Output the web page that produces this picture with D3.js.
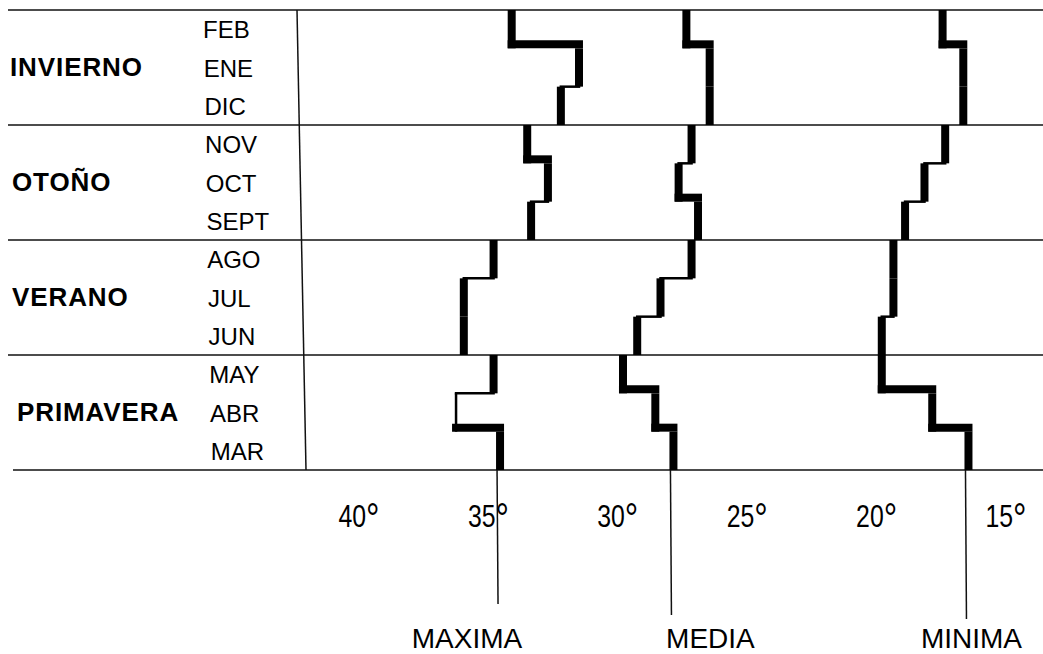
<!DOCTYPE html>
<html>
<head>
<meta charset="utf-8">
<script src="https://cdn.jsdelivr.net/npm/d3@7"></script>
<style>
  html, body { margin: 0; padding: 0; background: #fff; }
  svg { display: block; }
  text { font-family: "Liberation Sans", Arial, sans-serif; fill: #000; }
</style>
</head>
<body>
<svg id="chart" width="1043" height="654"></svg>
<script>
// ---- data ----
const seasons = ["INVIERNO", "OTOÑO", "VERANO", "PRIMAVERA"];
const months = ["FEB", "ENE", "DIC", "NOV", "OCT", "SEPT", "AGO", "JUL", "JUN", "MAY", "ABR", "MAR"];
const maxima = [34.1, 31.5, 32.2, 33.5, 32.7, 33.35, 34.8, 35.95, 35.95, 34.8, 36.25, 34.55];
const media  = [27.35, 26.45, 26.45, 27.15, 27.65, 26.9, 27.15, 28.35, 29.25, 29.8, 28.55, 27.85];
const minima = [17.45, 16.65, 16.65, 17.35, 18.15, 18.9, 19.35, 19.35, 19.8, 19.8, 17.85, 16.45];
const seriesNames = ["MAXIMA", "MEDIA", "MINIMA"];
const tickValues = [40, 35, 30, 25, 20, 15];
const tickLabels = ["40", "35", "30", "25", "20", "15"];
const degreeSign = "°";

// ---- layout / style ----
const W = 1043, H = 654;
const plotTop = 10, plotBottom = 470;
const plotLeft = 301;
const series = [
  { name: seriesNames[0], values: maxima, dropEnd: 604, labelDx: -33 },
  { name: seriesNames[1], values: media,  dropEnd: 615, labelDx: 37 },
  { name: seriesNames[2], values: minima, dropEnd: 619, labelDx: 3 }
];
const thinVertical = { MAXIMA: ["ABR"] };   // pen-drawn thin strokes
const thick = 8, thin = 2.5;

const svg = d3.select("#chart");

const x = d3.scaleLinear().domain([40, 15]).range([359, 1006]);
const yMonth = d3.scaleBand().domain(months).range([plotTop, plotBottom]);
const ySeason = d3.scaleBand().domain(seasons).range([plotTop, plotBottom]);

// horizontal season lines
const bounds = seasons.map(s => ySeason(s)).concat([plotBottom]);
svg.append("g").selectAll("line").data(bounds).join("line")
  .attr("x1", (d, i) => i === bounds.length - 1 ? 13 : 8)
  .attr("x2", W)
  .attr("y1", d => d).attr("y2", d => d)
  .attr("stroke", "#111").attr("stroke-width", 1.6);

// vertical separator
svg.append("line")
  .attr("x1", plotLeft - 4).attr("x2", plotLeft + 5)
  .attr("y1", plotTop).attr("y2", plotBottom)
  .attr("stroke", "#111").attr("stroke-width", 1.5);

// season labels
svg.append("g").selectAll("text").data(seasons).join("text")
  .attr("x", (d, i) => [10, 12, 12, 17][i])
  .attr("y", d => ySeason(d) + ySeason.bandwidth() / 2 + 8)
  .attr("font-size", 26).attr("font-weight", "bold")
  .attr("letter-spacing", 0.9)
  .text(d => d);

// month labels
svg.append("g").selectAll("text").data(months).join("text")
  .attr("x", (d, i) => 203 + i * 0.7)
  .attr("y", d => yMonth(d) + yMonth.bandwidth() / 2 + 9)
  .attr("font-size", 24)
  .text(d => d);

// step lines
const bw = yMonth.bandwidth();
series.forEach(s => {
  const g = svg.append("g");
  const thinList = thinVertical[s.name] || [];
  // vertical month segments
  g.selectAll("line.v").data(months).join("line")
    .attr("class", "v")
    .attr("x1", (d, i) => x(s.values[i])).attr("x2", (d, i) => x(s.values[i]))
    .attr("y1", d => yMonth(d)).attr("y2", d => yMonth(d) + bw)
    .attr("stroke", "#000")
    .attr("stroke-width", d => thinList.includes(d) ? thin : thick);
  // connectors inside each season
  const conn = months.slice(0, -1).map((m, i) => ({ i, m }))
    .filter(o => o.i % 3 !== 2 && s.values[o.i] !== s.values[o.i + 1]);
  const goesRight = o => x(s.values[o.i + 1]) > x(s.values[o.i]);
  g.selectAll("line.h").data(conn).join("line")
    .attr("class", "h")
    .attr("x1", o => x(s.values[o.i])).attr("x2", o => x(s.values[o.i + 1]))
    .attr("y1", o => yMonth(o.m) + bw - (goesRight(o) ? 4 : 0))
    .attr("y2", o => yMonth(o.m) + bw - (goesRight(o) ? 4 : 0))
    .attr("stroke", "#000")
    .attr("stroke-linecap", "square")
    .attr("stroke-width", o => goesRight(o) ? thick : thin);
  // drop line from the last month
  const last = s.values[s.values.length - 1];
  g.append("line")
    .attr("x1", x(last) - 3).attr("x2", x(last) - 2)
    .attr("y1", plotBottom).attr("y2", s.dropEnd)
    .attr("stroke", "#111").attr("stroke-width", 1.5);
  // series label
  g.append("text")
    .attr("x", x(last) + s.labelDx)
    .attr("y", 648)
    .attr("text-anchor", "middle")
    .attr("font-size", 28)
    .text(s.name);
});

// axis tick labels (condensed digits, large degree ring)
const tl = svg.append("g").selectAll("text").data(tickValues).join("text")
  .attr("transform", d => `translate(${x(d)},527) scale(0.8,1)`)
  .attr("text-anchor", "middle")
  .attr("font-size", 31);
tl.append("tspan").text((d, i) => tickLabels[i]);
tl.append("tspan").attr("font-size", 42).attr("dy", 6).text(degreeSign);
</script>
</body>
</html>
